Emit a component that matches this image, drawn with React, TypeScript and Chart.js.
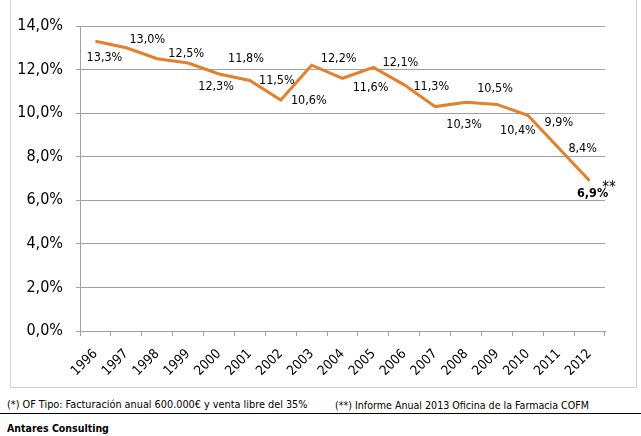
import React, { useEffect, useRef } from "react";
import { Chart, registerables } from "chart.js";

Chart.register(...registerables);

const years = ["1996","1997","1998","1999","2000","2001","2002","2003","2004","2005","2006","2007","2008","2009","2010","2011","2012"];
const margin = [13.3, 13.0, 12.5, 12.3, 11.8, 11.5, 10.6, 12.2, 11.6, 12.1, 11.3, 10.3, 10.5, 10.4, 9.9, 8.4, 6.9];
const yTicks = [0, 2, 4, 6, 8, 10, 12, 14];
const lastMark = "**";
const footnote1 = "(*) OF Tipo: Facturación anual 600.000€ y venta libre del 35%";
const footnote2 = "(**) Informe Anual 2013 Oficina de la Farmacia COFM";
const source = "Antares Consulting";

// label nudges relative to each point (styling only)
const LABEL_NUDGE: [number, number][] = [
  [9, 16], [21, -8], [29, -5], [28, 24], [27, -15], [27, 0], [28, 1], [27, -6],
  [28, 9], [27, -5], [27, 2], [29, 18], [29, -14], [21, 26], [31, 7], [24, 1], [3, 13],
];

const FONT = "'DejaVu Sans Condensed', 'DejaVu Sans', sans-serif";
const fmt = (v: number) => v.toFixed(1).replace(".", ",") + "%";

const labelPlugin = {
  id: "pointLabels",
  afterDatasetsDraw(chart: any) {
    const ctx = chart.ctx;
    const meta = chart.getDatasetMeta(0);
    ctx.save();
    ctx.fillStyle = "#000";
    ctx.textAlign = "center";
    ctx.textBaseline = "middle";
    meta.data.forEach((pt: any, i: number) => {
      const [dx, dy] = LABEL_NUDGE[i] || [0, -12];
      const txt = fmt(margin[i]);
      const last = i === margin.length - 1;
      ctx.font = (last ? "bold " : "") + "12.5px " + FONT;
      const x = pt.x + dx;
      const y = pt.y + dy;
      ctx.fillText(txt, x, y);
      if (last) {
        const w = ctx.measureText(txt).width;
        ctx.font = "15px " + FONT;
        ctx.textAlign = "left";
        ctx.fillText(lastMark, x + w / 2 - 6, y - 6);
        ctx.textAlign = "center";
      }
    });
    ctx.restore();
  },
};

export default function App() {
  const ref = useRef<HTMLCanvasElement>(null);
  useEffect(() => {
    if (!ref.current) return;
    const grid = "#a0a0a0";
    const chart = new Chart(ref.current, {
      type: "line",
      data: {
        labels: years,
        datasets: [
          {
            data: margin,
            borderColor: "#E2802C",
            borderWidth: 3,
            pointRadius: 0,
            tension: 0,
            fill: false,
          },
        ],
      },
      options: {
        animation: false,
        responsive: false,
        devicePixelRatio: 1,
        layout: { padding: { left: 0, top: 26, right: 36, bottom: 0 } },
        plugins: { legend: { display: false }, tooltip: { enabled: false } },
        scales: {
          x: {
            type: "category",
            offset: true,
            afterFit: (s: any) => { s.height = 55; },
            grid: { drawOnChartArea: false, drawTicks: true, tickLength: 5, color: grid, offset: true },
            border: { color: grid },
            ticks: {
              minRotation: 45,
              maxRotation: 45,
              autoSkip: false,
              padding: 10,
              color: "#000",
              font: { family: FONT, size: 13.5 },
            },
          },
          y: {
            min: 0,
            max: 14,
            afterFit: (s: any) => { s.width = 80; },
            afterBuildTicks: (s: any) => { s.ticks = yTicks.map((v) => ({ value: v })); },
            grid: { color: grid, tickLength: 4 },
            border: { color: grid },
            ticks: {
              padding: 13,
              color: "#000",
              font: { family: FONT, size: 16 },
              callback: (v: any) => fmt(Number(v)),
            },
          },
        },
      },
      plugins: [labelPlugin],
    });
    return () => chart.destroy();
  }, []);

  return (
    <div style={{ position: "absolute", left: 0, top: 0, width: 641, height: 436, background: "#fff", fontFamily: FONT, overflow: "hidden" }}>
      <div style={{ position: "absolute", left: 10, top: -2, width: 627, height: 390, border: "1px solid #cfcfcf", boxSizing: "border-box" }} />
      <canvas ref={ref} width={641} height={386} style={{ position: "absolute", left: 0, top: 0 }} />
      <div style={{ position: "absolute", left: 7, top: 398, fontSize: 10.8, lineHeight: "14px", whiteSpace: "nowrap", color: "#000" }}>{footnote1}</div>
      <div style={{ position: "absolute", left: 335, top: 398, fontSize: 10.6, lineHeight: "14px", whiteSpace: "nowrap", color: "#000" }}>{footnote2}</div>
      <div style={{ position: "absolute", left: 0, top: 413, width: 641, height: 1, background: "#000" }} />
      <div style={{ position: "absolute", left: 7, top: 421, fontSize: 10.5, lineHeight: "14px", fontWeight: "bold", whiteSpace: "nowrap", color: "#000" }}>{source}</div>
    </div>
  );
}
